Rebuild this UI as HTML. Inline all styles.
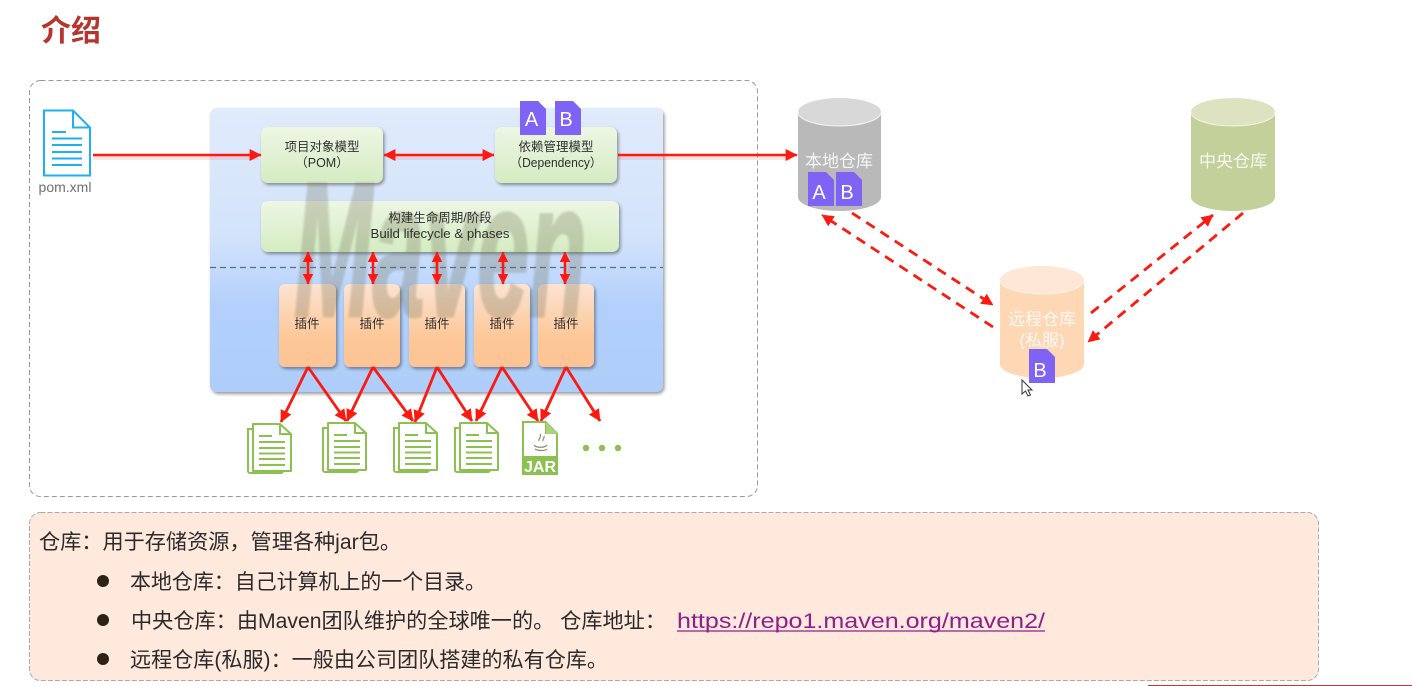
<!DOCTYPE html>
<html lang="zh">
<head>
<meta charset="utf-8">
<title>介绍</title>
<style>
html,body{margin:0;padding:0;background:#fff;width:1412px;height:686px;overflow:hidden}
svg{display:block;filter:blur(.35px)}
text{font-family:"Liberation Sans","Noto Sans CJK SC",sans-serif}
.b{font-size:12.5px;fill:#2f2f2f;text-anchor:middle}
.d{font-size:21px;fill:#2b2b2b}
.w{font-size:17px;fill:#fff;text-anchor:middle;fill-opacity:.85}
</style>
</head>
<body>
<svg width="1412" height="686" viewBox="0 0 1412 686" xmlns="http://www.w3.org/2000/svg">
<defs>
<linearGradient id="panel" x1="0" y1="0" x2="0" y2="1">
<stop offset="0" stop-color="#e0ebfb"/><stop offset=".45" stop-color="#d3e3fb"/><stop offset=".7" stop-color="#b2d0fb"/><stop offset="1" stop-color="#afcdfa"/>
</linearGradient>
<linearGradient id="green" x1="0" y1="0" x2="0" y2="1">
<stop offset="0" stop-color="#edf6e4"/><stop offset="1" stop-color="#d5ecc2"/>
</linearGradient>
<linearGradient id="orange" x1="0" y1="0" x2="0" y2="1">
<stop offset="0" stop-color="#fce3d2"/><stop offset=".65" stop-color="#fdc797"/><stop offset="1" stop-color="#fdc394"/>
</linearGradient>
<filter id="sh" x="-20%" y="-20%" width="140%" height="140%"><feDropShadow dx="1.5" dy="2" stdDeviation="1.6" flood-color="#000" flood-opacity=".4"/></filter>
<filter id="soft" x="-5%" y="-5%" width="110%" height="110%"><feGaussianBlur stdDeviation="1"/></filter>
<marker id="ah" viewBox="0 0 10 10" refX="9.500" refY="5" markerWidth="12" markerHeight="12" markerUnits="userSpaceOnUse" orient="auto-start-reverse"><path d="M0 0L10 5L0 10z" fill="#fc1a10"/></marker>
<marker id="ahs" viewBox="0 0 10 10" refX="9.500" refY="5" markerWidth="10.500" markerHeight="10.500" markerUnits="userSpaceOnUse" orient="auto-start-reverse"><path d="M0 0L10 5L0 10z" fill="#fc1a10"/></marker>
<g id="doc" fill="#fff" stroke="#8cc152" stroke-width="2">
<path d="M0 5H33a2 2 0 0 1 2 2V47a2 2 0 0 1-2 2H2a2 2 0 0 1-2-2z"/>
<path d="M5 0H32L43 10V47H5z" stroke-linejoin="round"/>
<path d="M32 0V10H43" fill="none"/>
<path d="M11 12H24M11 18H37M11 24H37M11 29.500H37M11 35H37M11 41H37" fill="none" stroke-width="2"/>
</g>
<g id="fa"><path d="M0 0H18L26 8V34H0z" fill="#7e63f5"/></g>
</defs>

<rect width="1412" height="686" fill="#fff"/>
<text x="41" y="41" font-size="30" font-weight="bold" fill="#b5352f">介绍</text>

<rect x="29.500" y="80.500" width="728" height="416" rx="11" fill="#fff" stroke="#999" stroke-dasharray="5 3"/>

<!-- panel -->
<rect x="210" y="108" width="453" height="284" rx="7" fill="url(#panel)" filter="url(#sh)"/>
<line x1="210" y1="267.500" x2="663" y2="267.500" stroke="#5b6b85" stroke-width="1.200" stroke-dasharray="6 4"/>

<!-- boxes -->
<rect x="261" y="127" width="122" height="56" rx="7" fill="url(#green)" filter="url(#sh)"/>
<rect x="495" y="127" width="122" height="56" rx="7" fill="url(#green)" filter="url(#sh)"/>
<rect x="261" y="201" width="358" height="51" rx="7" fill="url(#green)" filter="url(#sh)"/>

<g fill="url(#orange)" filter="url(#sh)">
<rect x="279" y="284" width="57" height="83" rx="6"/>
<rect x="344" y="284" width="56" height="83" rx="6"/>
<rect x="409" y="284" width="56" height="83" rx="6"/>
<rect x="474" y="284" width="56" height="83" rx="6"/>
<rect x="538" y="284" width="56" height="83" rx="6"/>
</g>

<!-- watermark -->
<g filter="url(#soft)" opacity=".28">
<text transform="translate(294,316) scale(.49,1)" font-size="192" font-weight="bold" font-style="italic" fill="#6f6f55" stroke="#6f6f55" stroke-width="3">Maven</text>
</g>

<!-- box labels -->
<text class="b" x="322" y="151">项目对象模型</text>
<text class="b" x="322" y="167">（POM）</text>
<text class="b" x="556" y="151">依赖管理模型</text>
<text class="b" x="556" y="167" textLength="92" lengthAdjust="spacingAndGlyphs">（Dependency）</text>
<text class="b" x="440" y="222">构建生命周期/阶段</text>
<text class="b" x="440" y="238" textLength="139" lengthAdjust="spacingAndGlyphs">Build lifecycle &amp; phases</text>
<text class="b" x="307" y="328">插件</text>
<text class="b" x="372" y="328">插件</text>
<text class="b" x="437" y="328">插件</text>
<text class="b" x="502" y="328">插件</text>
<text class="b" x="566" y="328">插件</text>

<!-- pom file -->
<g fill="none" stroke="#1fb0ee" stroke-width="2">
<path d="M44 110.500H73L90 127.500V175.500H44z" fill="#fff"/>
<path d="M73 110.500V127.500H90"/>
<path d="M52 132H66M52 138.500H82M52 145H82M52 152H82M52 158.500H82M52 165H82"/>
</g>
<text x="65" y="192" font-size="14" fill="#707070" text-anchor="middle">pom.xml</text>

<!-- A/B -->
<use href="#fa" x="520" y="101"/>
<use href="#fa" x="555" y="101"/>
<text x="531.500" y="126" font-size="20" fill="#fff" text-anchor="middle">A</text>
<text x="566" y="126" font-size="20" fill="#fff" text-anchor="middle">B</text>

<!-- main arrows -->
<g stroke="#fc1a10" stroke-opacity=".12" stroke-width="4" fill="none">
<path d="M93 158H258M395 158H485M618 158H790"/>
</g>
<g stroke="#fc1a10" stroke-width="2.600" fill="none">
<line x1="93" y1="155" x2="261" y2="155" marker-end="url(#ah)"/>
<line x1="384" y1="155" x2="494" y2="155" marker-start="url(#ah)" marker-end="url(#ah)"/>
<line x1="618" y1="155" x2="797" y2="155" marker-end="url(#ah)"/>
</g>

<!-- vertical double arrows -->
<g stroke="#fc1a10" stroke-width="2.600" fill="none">
<line x1="308" y1="252" x2="308" y2="284" marker-start="url(#ahs)" marker-end="url(#ahs)"/>
<line x1="373" y1="252" x2="373" y2="284" marker-start="url(#ahs)" marker-end="url(#ahs)"/>
<line x1="437" y1="252" x2="437" y2="284" marker-start="url(#ahs)" marker-end="url(#ahs)"/>
<line x1="503" y1="252" x2="503" y2="284" marker-start="url(#ahs)" marker-end="url(#ahs)"/>
<line x1="565" y1="252" x2="565" y2="284" marker-start="url(#ahs)" marker-end="url(#ahs)"/>
</g>

<!-- docs -->
<use href="#doc" x="248" y="424"/>
<use href="#doc" x="323" y="423"/>
<use href="#doc" x="394" y="423"/>
<use href="#doc" x="455" y="423"/>

<!-- output arrows -->
<g stroke="#fc1a10" stroke-width="2.800" fill="none">
<line x1="308" y1="367" x2="281" y2="422" marker-end="url(#ah)"/>
<line x1="308" y1="367" x2="346" y2="421" marker-end="url(#ah)"/>
<line x1="373" y1="367" x2="347" y2="421" marker-end="url(#ah)"/>
<line x1="373" y1="367" x2="413" y2="421" marker-end="url(#ah)"/>
<line x1="437" y1="367" x2="415" y2="422" marker-end="url(#ah)"/>
<line x1="437" y1="367" x2="472" y2="421" marker-end="url(#ah)"/>
<line x1="502" y1="367" x2="476" y2="421" marker-end="url(#ah)"/>
<line x1="502" y1="367" x2="538" y2="421" marker-end="url(#ah)"/>
<line x1="566" y1="367" x2="541" y2="421" marker-end="url(#ah)"/>
<line x1="566" y1="367" x2="600" y2="421" marker-end="url(#ah)"/>
</g>

<!-- jar -->
<path d="M522 421H546L558 433V475H522z" fill="#8cc152"/>
<path d="M524 423H545V434H556V456H524z" fill="#fff"/>
<path d="M546 422V434H558z" fill="#a8d37a"/>
<path d="M534 445c2 3 11 3 13 0M535 449c3 2 10 2 12 0M539 441c-1-2 3-4 1-7M543 441c-1-2 2-3 1-5" stroke="#8a8a70" stroke-width="1.200" fill="none"/>
<text x="540" y="472" font-size="16" font-weight="bold" fill="#fff" text-anchor="middle">JAR</text>
<g fill="#8cc152"><circle cx="586" cy="448" r="3.200"/><circle cx="602" cy="448" r="3.200"/><circle cx="618" cy="448" r="3.200"/></g>

<!-- cylinders -->
<path d="M798 112V197c0 8 19 14 41.500 14s41.500-6 41.500-14V112z" fill="#b9b9b9"/>
<ellipse cx="839.500" cy="112" rx="41.500" ry="14" fill="#d8d8d8"/>
<path d="M798 112c0 8 19 14 41.500 14s41.500-6 41.500-14" fill="none" stroke="#f4f4f4"/>
<path d="M1191 112V197c0 8 19 14 42 14s42-6 42-14V112z" fill="#c3d09a"/>
<ellipse cx="1233" cy="112" rx="42" ry="14" fill="#dde3c1"/>
<path d="M1191 112c0 8 19 14 42 14s42-6 42-14" fill="none" stroke="#f2f4e6"/>
<path d="M1000 280V364c0 8 19 14 42 14s42-6 42-14V280z" fill="#fed7b5"/>
<ellipse cx="1042" cy="280" rx="42" ry="14" fill="#ffe7d5"/>
<path d="M1000 280c0 8 19 14 42 14s42-6 42-14" fill="none" stroke="#fff3e9"/>

<text class="w" x="839" y="167">本地仓库</text>
<text class="w" x="1233" y="167">中央仓库</text>
<text class="w" x="1042" y="325">远程仓库</text>
<text class="w" x="1042" y="346">(私服)</text>

<use href="#fa" x="808" y="172"/>
<use href="#fa" x="836" y="172"/>
<use href="#fa" x="1029" y="349"/>
<text x="819" y="199" font-size="20" fill="#fff" text-anchor="middle">A</text>
<text x="847" y="199" font-size="20" fill="#fff" text-anchor="middle">B</text>
<text x="1040" y="377" font-size="20" fill="#fff" text-anchor="middle">B</text>

<!-- dashed arrows -->
<g stroke="#fc1a10" stroke-width="2.800" fill="none" stroke-dasharray="10 7">
<line x1="852" y1="213" x2="993" y2="305" marker-end="url(#ah)"/>
<line x1="993" y1="327" x2="822" y2="215" marker-end="url(#ah)"/>
<line x1="1091" y1="313" x2="1213" y2="215" marker-end="url(#ah)"/>
<line x1="1243" y1="213" x2="1088" y2="342" marker-end="url(#ah)"/>
</g>

<!-- cursor -->
<path d="M1022 380V394L1025.500 391L1028 396L1030.500 395L1028 390L1032 390z" fill="#fff" stroke="#333" stroke-width="1"/>

<!-- note box -->
<rect x="29.500" y="512.500" width="1289" height="168" rx="11" fill="#ffe9dd" stroke="#aaa" stroke-dasharray="5 2"/>
<text class="d" x="39" y="549" textLength="362" lengthAdjust="spacingAndGlyphs">仓库：用于存储资源，管理各种jar包。</text>
<circle cx="103" cy="581" r="6" fill="#2d2218"/>
<text class="d" x="130" y="589" textLength="356" lengthAdjust="spacingAndGlyphs">本地仓库：自己计算机上的一个目录。</text>
<circle cx="103" cy="620" r="6" fill="#2d2218"/>
<text class="d" x="131" y="628" textLength="535" lengthAdjust="spacingAndGlyphs">中央仓库：由Maven团队维护的全球唯一的。 仓库地址：</text>
<text class="d" x="677" y="628" textLength="368" lengthAdjust="spacingAndGlyphs" style="fill:#8e1f8c">https://repo1.maven.org/maven2/</text>
<line x1="677" y1="631" x2="1045" y2="631" stroke="#8e1f8c" stroke-width="1.200"/>
<circle cx="103" cy="659" r="6" fill="#2d2218"/>
<text class="d" x="130" y="667" textLength="478" lengthAdjust="spacingAndGlyphs">远程仓库(私服)：一般由公司团队搭建的私有仓库。</text>

<rect x="1148" y="685" width="264" height="1" fill="#c43a30"/>
</svg>
</body>
</html>
